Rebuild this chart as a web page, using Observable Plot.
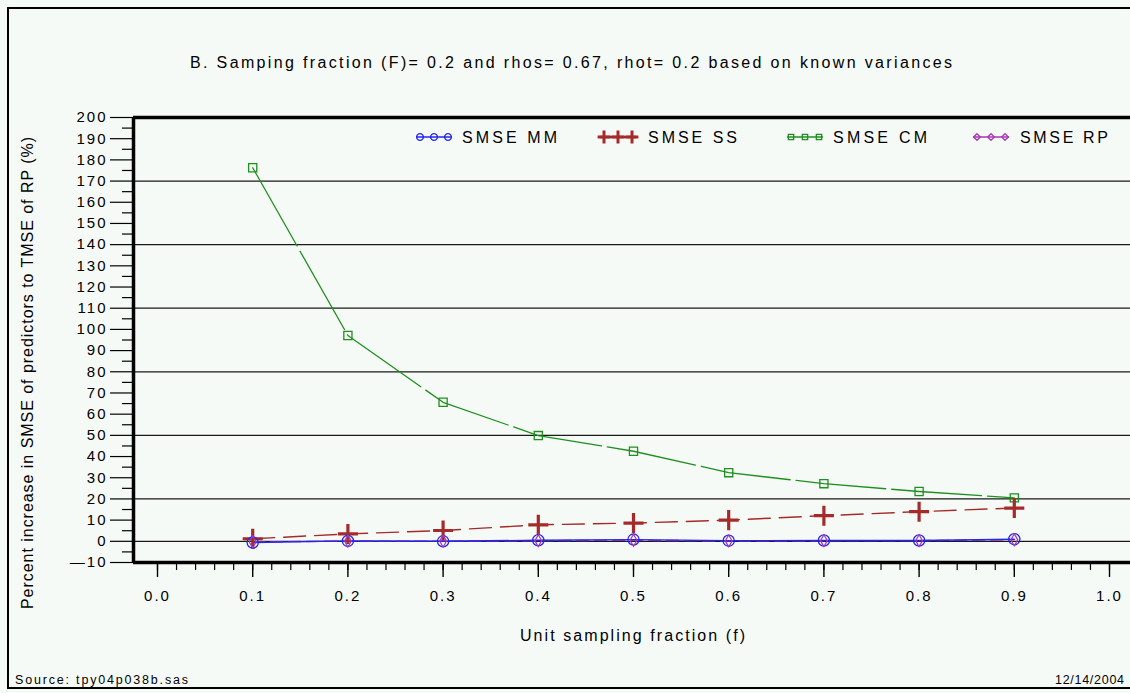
<!DOCTYPE html>
<html><head><meta charset="utf-8">
<script src="https://cdn.jsdelivr.net/npm/d3@7"></script>
<script src="https://cdn.jsdelivr.net/npm/@observablehq/plot@0.6"></script>
<style>
html,body{margin:0;padding:0;background:#f6faf6;width:1130px;height:693px;overflow:hidden;}
#wrap{position:relative;width:1130px;height:693px;}
#border{position:absolute;left:7px;top:7px;width:1140px;height:682px;border:2px solid #000;box-sizing:border-box;}
#chart,#overlay{position:absolute;left:0;top:0;}
</style></head><body>
<div id="wrap"><div id="border"></div><div id="chart"></div><svg id="overlay" width="1130" height="693"></svg></div>
<script>
// ---- data ----
const fractions = [0.1, 0.2, 0.3, 0.4, 0.5, 0.6, 0.7, 0.8, 0.9];
const smseMM = [-0.6, 0.2, 0.0, 0.5, 0.8, 0.3, 0.4, 0.4, 1.0];
const smseSS = [1.2, 3.5, 5.1, 7.8, 8.6, 10.0, 12.1, 14.0, 15.7];
const smseCM = [176.3, 97.1, 65.6, 49.9, 42.5, 32.4, 27.2, 23.5, 20.5];
const smseRP = [-0.3, 0.1, 0.1, 0.3, 0.5, 0.2, 0.3, 0.3, 0.7];
const seriesNames = ["SMSE MM", "SMSE SS", "SMSE CM", "SMSE RP"];
const seriesColors = ["#2424f0", "#a52a2a", "#1f8f1f", "#a838b0"];
const seriesSymbols = ["circle", "plus", "square", "diamond"];
const yTicks = d3.range(-10, 201, 10);
const yMinor = d3.range(-5, 200, 10);
const xTicks = d3.range(0, 11).map(i => i / 10);
const xMinor = d3.range(0, 51).map(i => i / 50);
const gridValues = [170, 140, 110, 80, 50, 20, 0];
const titleText = "B. Samping fraction (F)= 0.2 and rhos= 0.67, rhot= 0.2 based on known variances";
const yLabel = "Percent increase in SMSE of predictors to TMSE of RP (%)";
const xLabel = "Unit sampling fraction (f)";
const sourceText = "Source: tpy04p038b.sas";
const dateText = "12/14/2004";

const allSeries = [smseMM, smseSS, smseCM, smseRP];
const rows = [];
seriesNames.forEach((name, s) => fractions.forEach((f, i) => rows.push({series: name, f, v: allSeries[s][i]})));
const of = name => rows.filter(r => r.series === name);

const xDomain = [-24 / 952, -24 / 952 + 997 / 952];
const yDomain = [-10, 200];

const lineStyle = {
  "SMSE CM": {dash: "90,6", w: 1.3},
  "SMSE SS": {dash: "22,9", w: 1.4},
  "SMSE RP": {dash: "12,6", w: 1.4},
  "SMSE MM": {dash: null, w: 1.4}
};
const drawOrder = ["SMSE CM", "SMSE SS", "SMSE RP", "SMSE MM"];
const dotStyle = {
  "SMSE CM": {r: 4.6, w: 1.3},
  "SMSE SS": {r: 6.5, w: 3.2},
  "SMSE RP": {r: 3.6, w: 1.2},
  "SMSE MM": {r: 5.6, w: 1.3}
};

const marks = [];
marks.push(Plot.ruleY(gridValues, {stroke: "#1a1a1a", strokeWidth: 1.3}));
for (const name of drawOrder) {
  const k = seriesNames.indexOf(name);
  marks.push(Plot.line(of(name), {x: "f", y: "v", stroke: seriesColors[k], strokeWidth: lineStyle[name].w,
    strokeDasharray: lineStyle[name].dash}));
}
for (const name of ["SMSE CM", "SMSE SS", "SMSE MM", "SMSE RP"]) {
  const k = seriesNames.indexOf(name);
  marks.push(Plot.dot(of(name), {x: "f", y: "v", symbol: () => seriesSymbols[k], stroke: seriesColors[k],
    fill: "none", r: dotStyle[name].r, strokeWidth: dotStyle[name].w}));
}
marks.push(
  Plot.axisY(yTicks, {label: null, tickSize: 23, tickPadding: 3, stroke: "#000", strokeWidth: 1.2,
    tickFormat: d => d < 0 ? "\u2014" + Math.abs(d) : String(d)}),
  Plot.axisY(yMinor, {label: null, tickSize: 11, text: null, stroke: "#000", strokeWidth: 1.2}),
  Plot.axisX(xTicks, {label: null, tickSize: 15, tickPadding: 13, stroke: "#000", strokeWidth: 1.4, tickFormat: d3.format(".1f")}),
  Plot.axisX(xMinor, {label: null, tickSize: 8, text: null, stroke: "#000", strokeWidth: 1.2}),
  Plot.ruleX([xDomain[0]], {stroke: "#000", strokeWidth: 3.5}),
  Plot.ruleY(yDomain, {stroke: "#000", strokeWidth: 3.5})
);

const chart = Plot.plot({
  width: 1130, height: 693,
  marginLeft: 133, marginRight: 0, marginTop: 117, marginBottom: 131,
  x: {domain: xDomain, axis: null},
  y: {domain: yDomain, axis: null},
  style: {background: "transparent", fontFamily: "'Liberation Sans', Arial, Helvetica, sans-serif",
    fontSize: "15px", letterSpacing: "2px", color: "#000", overflow: "visible"},
  marks
});
document.getElementById("chart").appendChild(chart);

// ---- overlay text and legend ----
const ov = d3.select("#overlay").style("font-family", "'Liberation Sans', Arial, Helvetica, sans-serif");
function txt(str, x, y, size, len, rot) {
  const t = ov.append("text").attr("x", x).attr("y", y).attr("font-size", size).attr("fill", "#000").text(str);
  if (len) t.attr("textLength", len).attr("lengthAdjust", "spacing");
  if (rot) t.attr("transform", `rotate(-90 ${x} ${y})`);
  return t;
}
txt(titleText, 190, 68, 16, 762);
txt(yLabel, 33, 609, 16, 472, true);
txt(xLabel, 520, 641, 16, 225);
txt(sourceText, 15, 684, 12.5, 173);
txt(dateText, 1055, 684, 12.5, 69);

const legendPos = [
  {sx: 416, tx: 462, len: 95},
  {sx: 600, tx: 648, len: 89},
  {sx: 787, tx: 833, len: 94},
  {sx: 973, tx: 1020, len: 88}
];
seriesNames.forEach((name, k) => {
  const p = legendPos[k];
  const cy = 137;
  ov.append("line").attr("x1", p.sx).attr("x2", p.sx + 36).attr("y1", cy).attr("y2", cy)
    .attr("stroke", seriesColors[k]).attr("stroke-width", k === 1 ? 2.5 : 1.3);
  const symType = {circle: d3.symbolCircle, plus: d3.symbolPlus, square: d3.symbolSquare2, diamond: d3.symbolDiamond2}[seriesSymbols[k]];
  const sz = [3.4, 4.2, 3.4, 3.0][k];
  [4, 18, 32].forEach(dx => {
    ov.append("path").attr("d", d3.symbol(symType, sz * sz * Math.PI)())
      .attr("transform", `translate(${p.sx + dx},${cy})`)
      .attr("fill", "none").attr("stroke", seriesColors[k]).attr("stroke-width", k === 1 ? 3 : 1.3);
  });
  txt(name, p.tx, 143, 16, p.len);
});
</script></body></html>
